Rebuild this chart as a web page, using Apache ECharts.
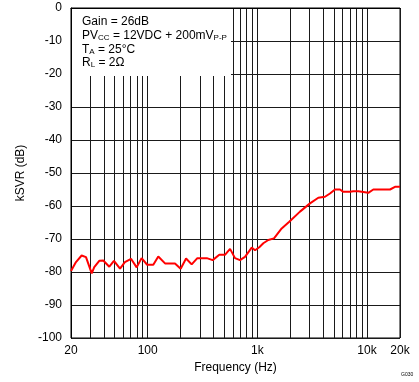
<!DOCTYPE html>
<html><head><meta charset="utf-8">
<script src="https://cdn.jsdelivr.net/npm/echarts@6/dist/echarts.min.js"></script>
<style>html,body{margin:0;padding:0;background:#fff}#c{width:419px;height:382px}</style>
</head><body><div id="c"></div>
<script>
const freqs = [20, 22.2, 25, 27.4, 30.9, 32.6, 36.2, 39.4, 44.7, 49.3, 56, 62, 70.5, 79.4, 88, 99, 112.6, 125, 144, 177.5, 200, 224, 252, 284, 346, 392, 450, 507, 564, 626, 695, 772, 889, 953, 1042, 1134, 1259, 1419, 1668, 1956, 2450, 3022, 3598, 4140, 4598, 5108, 5674, 6080, 7000, 7500, 8338, 8634, 10280, 11418, 16218, 18000, 20000];
const ksvr = [-79.7, -77, -75, -75.5, -80.4, -78.5, -76.6, -76.5, -78.4, -76.6, -79, -77, -76, -78.6, -75.8, -77.8, -77.8, -75.3, -77.4, -77.4, -79, -75.9, -77.7, -75.8, -75.8, -76.4, -74.8, -74.8, -73, -75.8, -76.4, -75.4, -72.6, -73.4, -72.5, -71.3, -70.3, -69.8, -66.8, -64.8, -61.7, -59.2, -57.5, -57.2, -56.2, -55, -55, -55.7, -55.7, -55.5, -55.5, -56, -56, -55, -55, -54.2, -54.2];
const gridFreqs = [20,30,40,50,60,70,80,90,100,200,300,400,500,600,700,800,900,1000,2000,3000,4000,5000,6000,7000,8000,9000,10000,20000];
const xLabelValues = [20, 100, 1000, 10000, 20000];
const xLabelTexts = {20:'20', 100:'100', 1000:'1k', 10000:'10k', 20000:'20k'};

const chart = echarts.init(document.getElementById('c'));
const font = 'Liberation Sans, Arial, sans-serif';
const rich = {
  a: {fontSize: 12, fontFamily: font, lineHeight: 14, verticalAlign: 'bottom'},
  s: {fontSize: 8, fontFamily: font, lineHeight: 8, verticalAlign: 'bottom'}
};
chart.setOption({
  animation: false,
  grid: {left: 71, right: 19, top: 8, bottom: 44, show: true, borderColor: '#000', borderWidth: 1, backgroundColor: 'transparent'},
  xAxis: {
    type: 'log', logBase: 10, min: 20, max: 20000,
    name: 'Frequency (Hz)', nameLocation: 'middle', nameGap: 20,
    nameTextStyle: {fontFamily: font, fontSize: 12, color: '#000'},
    axisLine: {show: true, lineStyle: {color: '#000'}},
    axisTick: {show: false, customValues: gridFreqs},
    axisLabel: {customValues: xLabelValues, fontFamily: font, fontSize: 12, color: '#000', margin: 7,
      formatter: v => xLabelTexts[Math.round(v)] || ''},
    splitLine: {show: true, lineStyle: {color: '#1a1a1a', width: 1}},
    minorSplitLine: {show: false}
  },
  yAxis: {
    type: 'value', min: -100, max: 0, interval: 10,
    name: 'kSVR (dB)', nameLocation: 'middle', nameGap: 41, nameRotate: 90,
    nameTextStyle: {fontFamily: font, fontSize: 12, color: '#000'},
    axisLine: {show: true, lineStyle: {color: '#000'}},
    axisTick: {show: false},
    axisLabel: {fontFamily: font, fontSize: 12, color: '#000', margin: 9},
    splitLine: {show: true, lineStyle: {color: '#1a1a1a', width: 1}}
  },
  series: [{
    type: 'line', data: freqs.map((f, i) => [f, ksvr[i]]),
    showSymbol: false, lineStyle: {color: '#ff0000', width: 2}, z: 5
  }],
  graphic: [
    {type: 'rect', shape: {x: 72, y: 9, width: 159, height: 67}, style: {fill: '#fff'}, z: 3},
    {type: 'text', x: 82, y: 16, z: 4, style: {text: 'Gain = 26dB', font: '12px ' + font, fill: '#000'}},
    {type: 'text', x: 82, y: 28, z: 4, style: {text: '{a|PV}{s|CC}{a| = 12VDC + 200mV}{s|P-P}', font: '12px ' + font, fill: '#000', rich: rich}},
    {type: 'text', x: 82, y: 42, z: 4, style: {text: '{a|T}{s|A}{a| = 25°C}', font: '12px ' + font, fill: '#000', rich: rich}},
    {type: 'text', x: 82, y: 55, z: 4, style: {text: '{a|R}{s|L}{a| = 2Ω}', font: '12px ' + font, fill: '#000', rich: rich}},
    {type: 'text', x: 401, y: 372, style: {text: 'G030', font: '5px ' + font, fill: '#000'}}
  ]
});
</script></body></html>
